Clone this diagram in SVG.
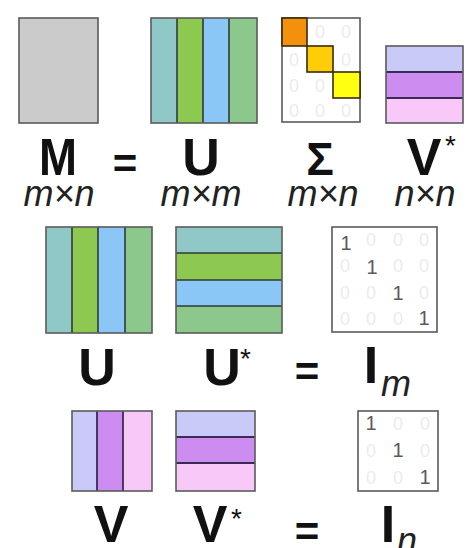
<svg xmlns="http://www.w3.org/2000/svg" width="467" height="548" viewBox="0 0 467 548">
<style>
.box{stroke:#5a5a5a;stroke-width:1.6}
.div{stroke:#2f3a35;stroke-width:1.6}
.pdiv{stroke:#3a2a55;stroke-width:1.8}
.big{font-family:"Liberation Sans",Arial,sans-serif;font-weight:bold;font-size:52px;fill:#111;text-anchor:middle}
.eq{font-family:"Liberation Sans",Arial,sans-serif;font-weight:bold;font-size:42px;fill:#111;text-anchor:middle}
.sub{font-family:"Liberation Sans",Arial,sans-serif;font-style:italic;font-size:36px;fill:#222;text-anchor:middle}
.subl{font-family:"Liberation Sans",Arial,sans-serif;font-style:italic;font-size:36px;fill:#222}
.ast{font-family:"Liberation Sans",Arial,sans-serif;font-size:28px;fill:#111}
.one{font-family:"Liberation Sans",Arial,sans-serif;font-size:20px;fill:#5a5a5a;text-anchor:middle}
.zero{font-family:"Liberation Sans",Arial,sans-serif;font-size:18px;fill:#ececec;text-anchor:middle}
</style>
<rect width="467" height="548" fill="#ffffff"/>

<g id="M">
<rect x="19" y="18" width="79" height="105" fill="#cbcbcb" class="box"/>
<text x="58" y="175" class="big" textLength="38" lengthAdjust="spacingAndGlyphs">M</text>
<text x="59" y="206" class="sub">m×n</text>
</g>

<text x="125" y="178" class="eq">=</text>

<g id="U-top">
<rect x="151" y="18" width="26" height="105" fill="#8fc8c6"/>
<rect x="177" y="18" width="26" height="105" fill="#8dc850"/>
<rect x="203" y="18" width="26" height="105" fill="#8ac6f6"/>
<rect x="229" y="18" width="28" height="105" fill="#8cc88c"/>
<line x1="177" y1="18" x2="177" y2="123" class="div"/>
<line x1="203" y1="18" x2="203" y2="123" class="div"/>
<line x1="229" y1="18" x2="229" y2="123" class="div"/>
<rect x="151" y="18" width="106" height="105" fill="none" class="box"/>
<text x="201" y="175" class="big">U</text>
<text x="201" y="206" class="sub">m×m</text>
</g>

<g id="Sigma">
<rect x="282" y="18" width="78" height="104" fill="#ffffff" class="box"/>
<text x="320" y="38" class="zero">0</text><text x="346" y="38" class="zero">0</text>
<text x="294" y="66" class="zero">0</text><text x="346" y="66" class="zero">0</text>
<text x="294" y="92" class="zero">0</text><text x="320" y="92" class="zero">0</text>
<text x="294" y="117" class="zero">0</text><text x="320" y="117" class="zero">0</text><text x="346" y="117" class="zero">0</text>
<rect x="282" y="18" width="25" height="28" fill="#f4900e" stroke="#3a2a10" stroke-width="1.6"/>
<rect x="307" y="46" width="26" height="26" fill="#ffcc08" stroke="#3a2a10" stroke-width="1.6"/>
<rect x="333" y="72" width="27" height="26" fill="#ffff10" stroke="#3a2a10" stroke-width="1.6"/>
<text x="320" y="175" font-family="Liberation Sans, Arial, sans-serif" font-weight="bold" font-size="46" fill="#111" text-anchor="middle">Σ</text>
<text x="323" y="206" class="sub">m×n</text>
</g>

<g id="Vstar-top">
<rect x="386" y="46" width="77" height="26" fill="#cacaf8"/>
<rect x="386" y="72" width="77" height="26" fill="#cc8cf0"/>
<rect x="386" y="98" width="77" height="25" fill="#f8c8f8"/>
<line x1="386" y1="72" x2="463" y2="72" class="pdiv"/>
<line x1="386" y1="98" x2="463" y2="98" class="pdiv"/>
<rect x="386" y="46" width="77" height="77" fill="none" class="box"/>
<text x="424" y="175" class="big">V</text>
<text x="445" y="155" class="ast">*</text>
<text x="425" y="206" class="sub">n×n</text>
</g>

<g id="U-mid">
<rect x="46" y="227" width="26" height="106" fill="#8fc8c6"/>
<rect x="72" y="227" width="26" height="106" fill="#8dc850"/>
<rect x="98" y="227" width="27" height="106" fill="#8ac6f6"/>
<rect x="125" y="227" width="27" height="106" fill="#8cc88c"/>
<line x1="72" y1="227" x2="72" y2="333" class="div"/>
<line x1="98" y1="227" x2="98" y2="333" class="div"/>
<line x1="125" y1="227" x2="125" y2="333" class="div"/>
<rect x="46" y="227" width="106" height="106" fill="none" class="box"/>
<text x="97" y="385" class="big" font-size="54">U</text>
</g>

<g id="Ustar-mid">
<rect x="176" y="227" width="106" height="26" fill="#8fc8c6"/>
<rect x="176" y="253" width="106" height="27" fill="#8dc850"/>
<rect x="176" y="280" width="106" height="26" fill="#8ac6f6"/>
<rect x="176" y="306" width="106" height="27" fill="#8cc88c"/>
<line x1="176" y1="253" x2="282" y2="253" class="div"/>
<line x1="176" y1="280" x2="282" y2="280" class="div"/>
<line x1="176" y1="306" x2="282" y2="306" class="div"/>
<rect x="176" y="227" width="106" height="106" fill="none" class="box"/>
<text x="222" y="385" class="big" font-size="54">U</text>
<text x="240" y="368" class="ast">*</text>
</g>

<text x="307" y="386" class="eq">=</text>

<g id="Im">
<rect x="332" y="227" width="105" height="105" fill="#ffffff" class="box"/>
<text x="371" y="246" class="zero">0</text><text x="398" y="246" class="zero">0</text><text x="424" y="246" class="zero">0</text>
<text x="345" y="272" class="zero">0</text><text x="398" y="272" class="zero">0</text><text x="424" y="272" class="zero">0</text>
<text x="345" y="299" class="zero">0</text><text x="371" y="299" class="zero">0</text><text x="424" y="299" class="zero">0</text>
<text x="345" y="325" class="zero">0</text><text x="371" y="325" class="zero">0</text><text x="398" y="325" class="zero">0</text>
<text x="346" y="250" class="one">1</text>
<text x="372" y="274" class="one">1</text>
<text x="398" y="300" class="one">1</text>
<text x="424" y="325" class="one">1</text>
<text x="371" y="383" class="big" font-size="54">I</text>
<text x="381" y="396" class="subl">m</text>
</g>

<g id="V-bot">
<rect x="72" y="411" width="25" height="80" fill="#cacaf8"/>
<rect x="97" y="411" width="26" height="80" fill="#cc8cf0"/>
<rect x="123" y="411" width="29" height="80" fill="#f8c8f8"/>
<line x1="97" y1="411" x2="97" y2="491" class="pdiv"/>
<line x1="123" y1="411" x2="123" y2="491" class="pdiv"/>
<rect x="72" y="411" width="80" height="80" fill="none" class="box"/>
<text x="111" y="542" class="big">V</text>
</g>

<g id="Vstar-bot">
<rect x="176" y="411" width="79" height="26" fill="#cacaf8"/>
<rect x="176" y="437" width="79" height="26" fill="#cc8cf0"/>
<rect x="176" y="463" width="79" height="28" fill="#f8c8f8"/>
<line x1="176" y1="437" x2="255" y2="437" class="pdiv"/>
<line x1="176" y1="463" x2="255" y2="463" class="pdiv"/>
<rect x="176" y="411" width="79" height="80" fill="none" class="box"/>
<text x="210" y="542" class="big">V</text>
<text x="231" y="528" class="ast">*</text>
</g>

<text x="307" y="546" class="eq">=</text>

<g id="In">
<rect x="358" y="411" width="80" height="80" fill="#ffffff" class="box"/>
<text x="398" y="430" class="zero">0</text><text x="425" y="430" class="zero">0</text>
<text x="371" y="457" class="zero">0</text><text x="425" y="457" class="zero">0</text>
<text x="371" y="484" class="zero">0</text><text x="398" y="484" class="zero">0</text>
<text x="371" y="430" class="one">1</text>
<text x="398" y="457" class="one">1</text>
<text x="425" y="484" class="one">1</text>
<text x="388" y="542" class="big">I</text>
<text x="397" y="553" class="subl">n</text>
</g>
</svg>
